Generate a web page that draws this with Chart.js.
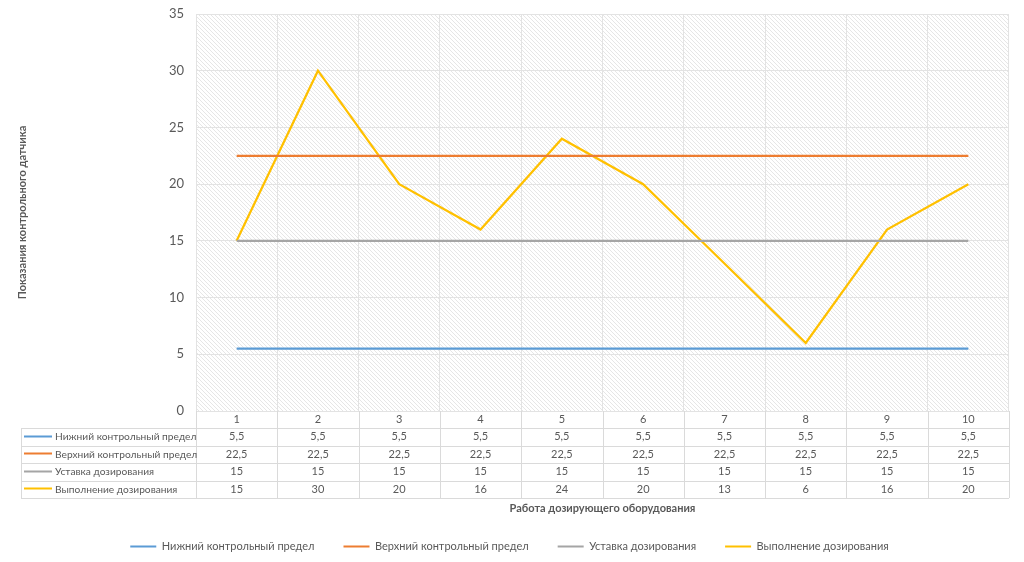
<!DOCTYPE html>
<html>
<head>
<meta charset="utf-8">
<script src="https://cdn.jsdelivr.net/npm/chart.js@4"></script>
<style>
  html, body { margin: 0; padding: 0; background: #fff; }
  #wrap { width: 1024px; height: 562px; }
</style>
</head>
<body>
<div id="wrap"><canvas id="chart"></canvas></div>
<script>
// data
var categories = ["1", "2", "3", "4", "5", "6", "7", "8", "9", "10"];
var lowerLimit = [5.5, 5.5, 5.5, 5.5, 5.5, 5.5, 5.5, 5.5, 5.5, 5.5];
var upperLimit = [22.5, 22.5, 22.5, 22.5, 22.5, 22.5, 22.5, 22.5, 22.5, 22.5];
var setpoint = [15, 15, 15, 15, 15, 15, 15, 15, 15, 15];
var actual = [15, 30, 20, 16, 24, 20, 13, 6, 16, 20];
var seriesNames = [
  "Нижний контрольный предел",
  "Верхний контрольный предел",
  "Уставка дозирования",
  "Выполнение дозирования",
];
var seriesColors = ["#5B9BD5", "#ED7D31", "#A5A5A5", "#FFC000"];
var yMin = 0;
var yMax = 35;
var yStep = 5;

var FONT = "Lato, 'Open Sans', sans-serif";
var TEXT = "#595959";
var GRID = "#e3e3e3";

// hatch pattern for plot background
var pat = document.createElement("canvas");
pat.width = 4;
pat.height = 4;
var pctx = pat.getContext("2d");
pctx.fillStyle = "#ffffff";
pctx.fillRect(0, 0, 4, 4);
pctx.strokeStyle = "#e6e6e6";
pctx.lineWidth = 1;
pctx.beginPath();
pctx.moveTo(-1, -1);
pctx.lineTo(5, 5);
pctx.moveTo(-1, 3);
pctx.lineTo(1, 5);
pctx.moveTo(3, -1);
pctx.lineTo(5, 1);
pctx.stroke();

const fmt = (v) => String(v).replace(".", ",");

// background + hatch
const hatchPlugin = {
  id: "hatch",
  beforeDraw: (chart) => {
    var ctx = chart.ctx;
    var a = chart.chartArea;
    ctx.save();
    ctx.fillStyle = "#ffffff";
    ctx.fillRect(0, 0, chart.width, chart.height);
    ctx.fillStyle = ctx.createPattern(pat, "repeat");
    ctx.fillRect(a.left, a.top, a.right - a.left, a.bottom - a.top);
    ctx.restore();
  },
};

// data table under the plot, plus x axis title
const tablePlugin = {
  id: "dataTable",
  afterDraw: (chart) => {
    var ctx = chart.ctx;
    var a = chart.chartArea;
    var xs = chart.scales.x;
    var rows = [lowerLimit, upperLimit, setpoint, actual];
    var headerH = 17;
    var rowH = 17.5;
    var tableLeft = 21;
    var colW = (a.right - a.left) / categories.length;
    var top = a.bottom;
    var rowsTop = top + headerH;
    var bottom = rowsTop + rowH * rows.length;

    ctx.save();
    ctx.strokeStyle = "#dadada";
    ctx.lineWidth = 1;
    ctx.beginPath();
    // horizontal lines
    for (var r = 0; r <= rows.length; r++) {
      var y = Math.round(rowsTop + rowH * r) + 0.5;
      ctx.moveTo(tableLeft, y);
      ctx.lineTo(a.right, y);
    }
    // vertical lines
    for (var c = 0; c <= categories.length; c++) {
      var x = Math.round(a.left + colW * c) + 0.5;
      ctx.moveTo(x, top);
      ctx.lineTo(x, bottom);
    }
    ctx.moveTo(tableLeft + 0.5, rowsTop);
    ctx.lineTo(tableLeft + 0.5, bottom);
    ctx.stroke();

    ctx.fillStyle = TEXT;
    ctx.font = "11px " + FONT;
    ctx.textAlign = "center";
    ctx.textBaseline = "middle";
    categories.forEach(function (cat, i) {
      ctx.fillText(cat, xs.getPixelForValue(i), top + headerH / 2);
    });
    rows.forEach(function (vals, r) {
      var cy = rowsTop + rowH * r + rowH / 2;
      ctx.font = "11px " + FONT;
      vals.forEach(function (v, i) {
        ctx.textAlign = "center";
        ctx.fillText(fmt(v), xs.getPixelForValue(i), cy);
      });
      // legend key in the row header
      ctx.strokeStyle = seriesColors[r];
      ctx.lineWidth = 2;
      ctx.beginPath();
      ctx.moveTo(24, Math.round(cy) - 0.5);
      ctx.lineTo(52, Math.round(cy) - 0.5);
      ctx.stroke();
      ctx.font = "10.2px " + FONT;
      ctx.textAlign = "left";
      ctx.fillText(seriesNames[r], 55, cy);
    });

    // x axis title
    ctx.font = "bold 11px " + FONT;
    ctx.textAlign = "center";
    ctx.fillStyle = TEXT;
    ctx.fillText("Работа дозирующего оборудования", (a.left + a.right) / 2, 508);
    ctx.restore();
  },
};

var datasets = [lowerLimit, upperLimit, setpoint, actual].map(function (d, i) {
  return {
    label: seriesNames[i],
    data: d,
    borderColor: seriesColors[i],
    backgroundColor: seriesColors[i],
    borderWidth: 2.25,
    pointRadius: 0,
    tension: 0,
  };
});

var ctx = document.getElementById("chart").getContext("2d");
var chart = new Chart(ctx, {
  type: "line",
  data: {
    labels: categories,
    datasets: datasets,
  },
  options: {
    responsive: true,
    maintainAspectRatio: false,
    animation: false,
    layout: {
      padding: { top: 14, right: 15, left: 10, bottom: 0 },
    },
    scales: {
      x: {
        offset: true,
        grid: { offset: true, color: GRID, drawTicks: false },
        border: { display: false },
        ticks: { display: false },
        afterFit: (scale) => {
          scale.height = 101;
        },
      },
      y: {
        min: yMin,
        max: yMax,
        ticks: {
          stepSize: yStep,
          color: TEXT,
          font: { family: FONT, size: 13 },
          padding: 12,
        },
        grid: { color: GRID, drawTicks: false },
        border: { display: false },
        title: {
          display: true,
          text: "Показания контрольного датчика",
          color: TEXT,
          font: { family: FONT, size: 11, weight: "bold" },
          padding: { top: 6, bottom: 0 },
        },
        afterFit: (scale) => {
          scale.width = 186;
          scale.paddingTop = 0;
          scale.paddingBottom = 0;
        },
      },
    },
    plugins: {
      legend: {
        position: "bottom",
        labels: {
          color: TEXT,
          font: { family: FONT, size: 11 },
          boxWidth: 26,
          boxHeight: 2,
          padding: 29,
          generateLabels: (chart) =>
            Chart.defaults.plugins.legend.labels
              .generateLabels(chart)
              .map((l) => Object.assign(l, { lineWidth: 0 })),
        },
      },
      tooltip: { enabled: false },
    },
  },
  plugins: [hatchPlugin, tablePlugin],
});
</script>
</body>
</html>
